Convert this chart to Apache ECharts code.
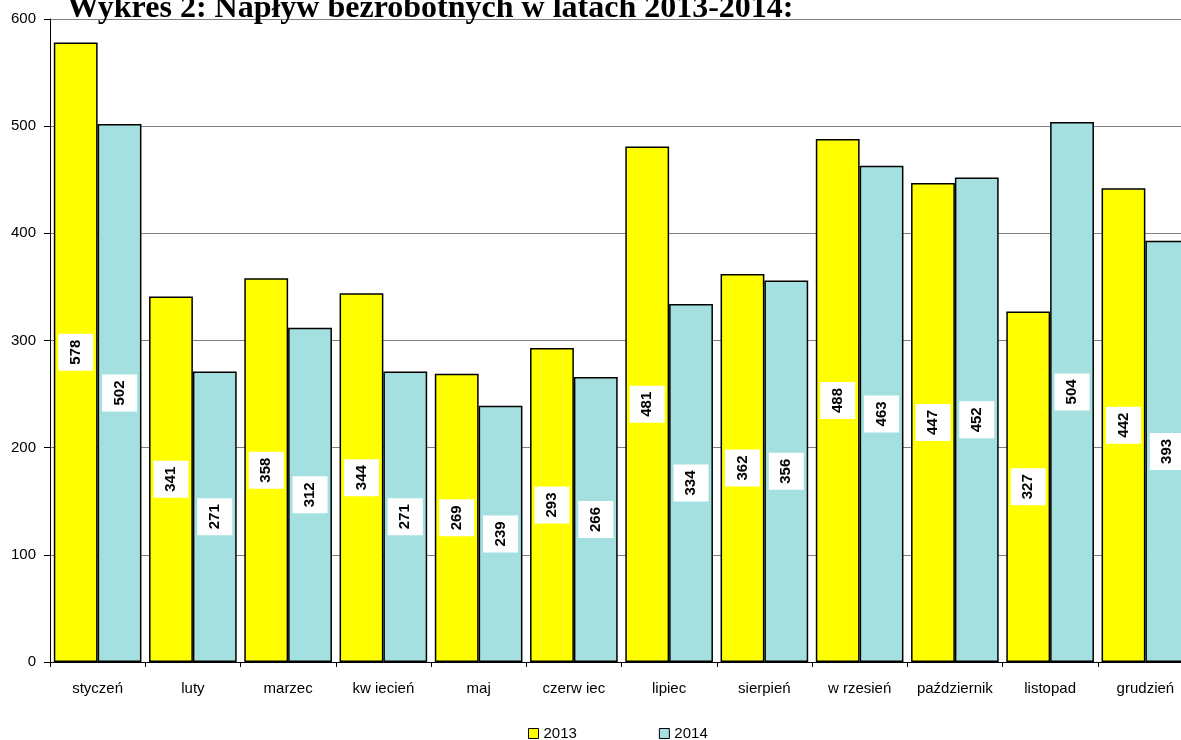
<!DOCTYPE html>
<html>
<head>
<meta charset="utf-8">
<script src="https://cdn.jsdelivr.net/npm/echarts@6/dist/echarts.min.js"></script>
<style>
	html,body{margin:0;padding:0;background:#fff;}
	#chart{width:1181px;height:740px;}
</style>
</head>
<body>
<div id="chart"></div>
<script>
var months = ['styczeń', 'luty', 'marzec', 'kw iecień', 'maj', 'czerw iec', 'lipiec', 'sierpień', 'w rzesień', 'październik', 'listopad', 'grudzień'];
var data2013 = [578, 341, 358, 344, 269, 293, 481, 362, 488, 447, 327, 442];
var data2014 = [502, 271, 312, 271, 239, 266, 334, 356, 463, 452, 504, 393];
var yTicks = [0, 100, 200, 300, 400, 500, 600];

var barLabel = {
	show: true,
	position: 'inside',
	rotate: 90,
	color: '#000',
	fontFamily: 'Arial',
	fontWeight: 'bold',
	fontSize: 15,
	backgroundColor: '#fff',
	padding: [10, 6, 10, 6]
};

var chart = echarts.init(document.getElementById('chart'));
chart.setOption({
	animation: false,
	title: {
		text: 'Wykres 2: Napływ bezrobotnych w latach 2013-2014:',
		left: 62,
		top: -12,
		textStyle: {
			fontFamily: 'Liberation Serif',
			fontWeight: 'bold',
			fontSize: 32,
			color: '#000'
		}
	},
	legend: {
		data: ['2013', '2014'],
		left: 528,
		top: 726,
		padding: 0,
		itemWidth: 10,
		itemHeight: 10,
		itemGap: 82,
		icon: 'rect',
		textStyle: {
			fontFamily: 'Arial',
			fontSize: 15,
			color: '#000'
		},
		itemStyle: {
			borderColor: '#000',
			borderWidth: 1
		}
	},
	grid: {
		left: 50,
		width: 1143,
		top: 19,
		bottom: 78,
		containLabel: false,
		outerBoundsMode: 'none'
	},
	xAxis: {
		type: 'category',
		data: months,
		axisLine: {
			lineStyle: {color: '#000', width: 1}
		},
		axisTick: {
			show: true,
			length: 5,
			lineStyle: {color: '#000'}
		},
		axisLabel: {
			margin: 19,
			color: '#000',
			fontFamily: 'Arial',
			fontSize: 15,
			interval: 0
		}
	},
	yAxis: {
		type: 'value',
		min: yTicks[0],
		max: yTicks[yTicks.length - 1],
		interval: 100,
		axisLine: {
			show: true,
			lineStyle: {color: '#000', width: 1}
		},
		axisTick: {
			show: true,
			length: 6,
			lineStyle: {color: '#000'}
		},
		axisLabel: {
			margin: 14,
			color: '#000',
			fontFamily: 'Arial',
			fontSize: 15
		},
		splitLine: {
			lineStyle: {color: '#808080', width: 1}
		}
	},
	series: [{
		name: '2013',
		type: 'bar',
		data: data2013,
		barGap: '0%',
		barCategoryGap: '8%',
		itemStyle: {
			color: '#FFFF00',
			borderColor: '#000',
			borderWidth: 1.5
		},
		label: barLabel
	}, {
		name: '2014',
		type: 'bar',
		data: data2014,
		barGap: '0%',
		barCategoryGap: '8%',
		itemStyle: {
			color: '#A4E0E0',
			borderColor: '#000',
			borderWidth: 1.5
		},
		label: barLabel
	}]
});
</script>
</body>
</html>
